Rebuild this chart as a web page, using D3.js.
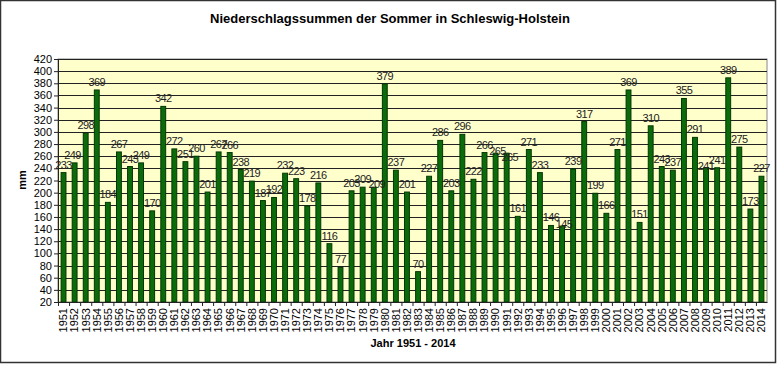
<!DOCTYPE html>
<html><head><meta charset="utf-8">
<script src="https://cdn.jsdelivr.net/npm/d3@7"></script>
<style>body{margin:0;background:#fff;font-family:Arial,"Liberation Sans",sans-serif;}</style>
</head><body>
<svg id="c" width="779" height="365"></svg>
<script>
const years = d3.range(1951, 2015).map(String);
const values = [233,249,298,369,184,267,243,249,170,342,272,251,260,201,267,266,238,219,187,192,232,223,178,216,116,77,203,209,209,379,237,201,70,227,286,203,296,222,266,265,265,161,271,233,146,145,239,317,199,166,271,369,151,310,243,237,355,291,241,241,389,275,173,227];
const yTicks = d3.range(20, 421, 20);
const title = "Niederschlagssummen der Sommer in Schleswig-Holstein";
const xTitle = "Jahr 1951 - 2014";
const yTitle = "mm";

// label nudges (styling only), as in the reference where labels were staggered
const labelNudge = {"1952":[-2,0],"1979":[3,5],"1990":[2,6],"1991":[3,12],"1996":[2,6],"2009":[0,6],"1970":[0,-1]};

const svg = d3.select("#c");
const m = {l:58, r:767, t:59, b:302};

svg.append("rect").attr("x",0.5).attr("y",0.5).attr("width",775).attr("height",362)
  .attr("fill","#fff").attr("stroke","#333").attr("stroke-width",1.5);

const x = d3.scaleBand().domain(years).range([m.l, m.r]).paddingInner(0.56).paddingOuter(0.28);
const xb = d3.scaleBand().domain(years).range([m.l, m.r]);
const y = d3.scaleLinear().domain([20,420]).range([m.b, m.t]);

svg.append("rect").attr("x",m.l).attr("y",m.t).attr("width",m.r-m.l).attr("height",m.b-m.t)
  .attr("fill","#FFFFCC").attr("stroke","#888");

svg.append("g").selectAll("line").data(yTicks.slice(1)).join("line")
  .attr("x1",m.l).attr("x2",m.r).attr("y1",d=>Math.round(y(d))+0.5).attr("y2",d=>Math.round(y(d))+0.5)
  .attr("stroke","#222").attr("stroke-width",1);

svg.append("g").selectAll("rect").data(values).join("rect")
  .attr("x",(d,i)=>x(years[i])).attr("width",x.bandwidth())
  .attr("y",d=>y(d)).attr("height",d=>y(20)-y(d))
  .attr("fill","#0B6B0B").attr("stroke","#033803").attr("stroke-width",1);

svg.append("g").selectAll("text").data(values).join("text")
  .attr("x",(d,i)=>x(years[i])+x.bandwidth()/2 + (labelNudge[years[i]]||[0,0])[0])
  .attr("y",(d,i)=>y(d)-4 + (labelNudge[years[i]]||[0,0])[1])
  .attr("text-anchor","middle").attr("font-size",11).attr("letter-spacing",-0.6).attr("fill","#222")
  .text(d=>d);

const ya = svg.append("g").attr("transform",`translate(${m.l},0)`)
  .call(d3.axisLeft(y).tickValues(yTicks).tickSize(4).tickSizeOuter(0));
ya.select(".domain").attr("stroke","#222");
ya.selectAll("line").attr("stroke","#222");
ya.selectAll("text").attr("font-size",11).attr("font-family","Arial,'Liberation Sans',sans-serif").attr("fill","#000").attr("x",-6);

const xa = svg.append("g").attr("transform",`translate(0,${m.b})`)
  .call(d3.axisBottom(xb).tickSize(0));
xa.select(".domain").attr("stroke","#222");
xa.selectAll("text").attr("font-size",11).attr("font-family","Arial,'Liberation Sans',sans-serif").attr("fill","#000")
  .attr("transform","rotate(-90)").attr("text-anchor","end").attr("dy","0.35em").attr("x",-6).attr("y",0);
svg.append("g").selectAll("line").data(years).join("line")
  .attr("x1",d=>xb(d)+0.5).attr("x2",d=>xb(d)+0.5).attr("y1",m.b).attr("y2",m.b+4).attr("stroke","#222");

svg.append("text").attr("x",390).attr("y",23).attr("text-anchor","middle")
  .attr("font-size",13).attr("font-weight","bold").text(title);
svg.append("text").attr("x",413).attr("y",347).attr("text-anchor","middle")
  .attr("font-size",11).attr("font-weight","bold").text(xTitle);
svg.append("text").attr("transform","translate(26,180) rotate(-90)").attr("text-anchor","middle")
  .attr("font-size",11).attr("font-weight","bold").text(yTitle);
</script>
</body></html>
